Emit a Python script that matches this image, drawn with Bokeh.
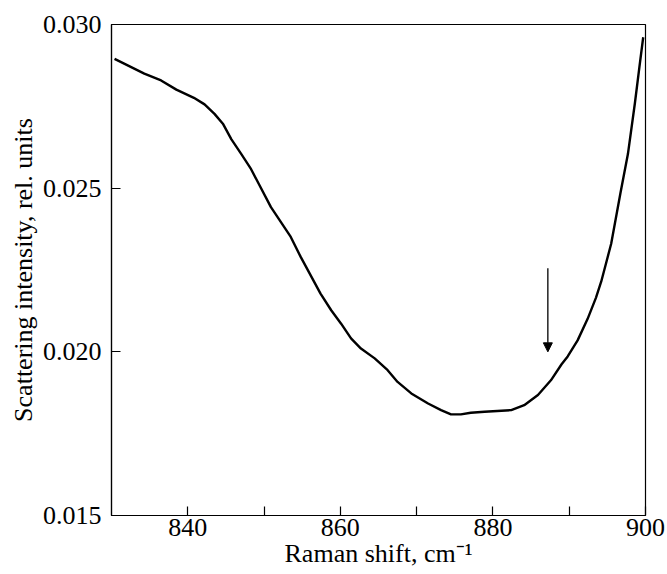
from bokeh.plotting import figure
from bokeh.models import Range1d, FixedTicker, PrintfTickFormatter, Arrow, NormalHead
from bokeh.embed import file_html
from bokeh.resources import INLINE

# Data
raman_shift = [830.4, 834.3, 836.5, 838.5, 840.8, 842.2, 843.5, 844.6, 845.7, 847.0,
               848.3, 850.9, 853.5, 854.8, 857.4, 858.8, 860.1, 861.4, 862.7, 864.5,
               866.2, 867.5, 869.3, 871.5, 873.2, 874.5, 875.8, 877.1, 878.9, 882.4,
               884.1, 885.9, 887.6, 889.0, 889.8, 891.1, 892.4, 893.5, 894.2, 895.5,
               896.7, 897.7, 898.6, 899.2, 899.7]
intensity = [0.02895, 0.02850, 0.02829, 0.02801, 0.02776, 0.02756, 0.02727, 0.02697, 0.02650, 0.02605,
             0.02558, 0.02442, 0.02351, 0.02290, 0.02178, 0.02127, 0.02086, 0.02041, 0.02010, 0.01980,
             0.01944, 0.01908, 0.01873, 0.01842, 0.01822, 0.01809, 0.01809, 0.01814, 0.01817, 0.01822,
             0.01837, 0.01868, 0.01913, 0.01962, 0.01986, 0.02035, 0.02100, 0.02165, 0.02215, 0.02330,
             0.02483, 0.02605, 0.02758, 0.02870, 0.02961]

x_ticks = [840, 850, 860, 870, 880, 890, 900]
x_hidden_labels = [850, 870, 890]
y_ticks = [0.015, 0.020, 0.025, 0.030]

arrow_x = 887.2
arrow_y_start = 0.02255
arrow_y_end = 0.0200

FONT = "Liberation Serif"

p = figure(width=667, height=574, output_backend="svg", toolbar_location=None,
           x_range=Range1d(830, 900), y_range=Range1d(0.015, 0.030),
           min_border_left=111, min_border_right=22, min_border_top=24, min_border_bottom=59)

p.background_fill_color = "white"
p.border_fill_color = "white"
p.outline_line_color = "black"
p.outline_line_width = 1.2
p.xgrid.visible = False
p.ygrid.visible = False

p.line(raman_shift, intensity, line_color="black", line_width=2.4, line_join="round")

p.add_layout(Arrow(end=NormalHead(size=9, fill_color="black", line_color="black", line_width=1),
                   x_start=arrow_x, y_start=arrow_y_start, x_end=arrow_x, y_end=arrow_y_end,
                   line_color="black", line_width=1.3))

xa = p.xaxis[0]
xa.ticker = FixedTicker(ticks=x_ticks)
xa.major_label_overrides = {t: "" for t in x_hidden_labels}
xa.axis_label = "Raman shift, cm\u207b\u00b9"

ya = p.yaxis[0]
ya.ticker = FixedTicker(ticks=y_ticks)
ya.formatter = PrintfTickFormatter(format="%.3f")
ya.axis_label = "Scattering intensity, rel. units"

for ax in (xa, ya):
    ax.axis_line_color = "black"
    ax.axis_line_width = 1.2
    ax.major_tick_in = 9
    ax.major_tick_out = 0
    ax.major_tick_line_color = "black"
    ax.major_tick_line_width = 1.2
    ax.minor_tick_line_color = None
    ax.major_label_text_font = FONT
    ax.major_label_text_font_size = "26px"
    ax.major_label_text_color = "black"
    ax.axis_label_text_font = FONT
    ax.axis_label_text_font_size = "26px"
    ax.axis_label_text_font_style = "normal"
    ax.axis_label_text_color = "black"

xa.major_label_standoff = 3
xa.axis_label_standoff = 0
ya.major_label_standoff = 10
ya.axis_label_standoff = 2

open("out.html", "w").write(file_html(p, INLINE))
